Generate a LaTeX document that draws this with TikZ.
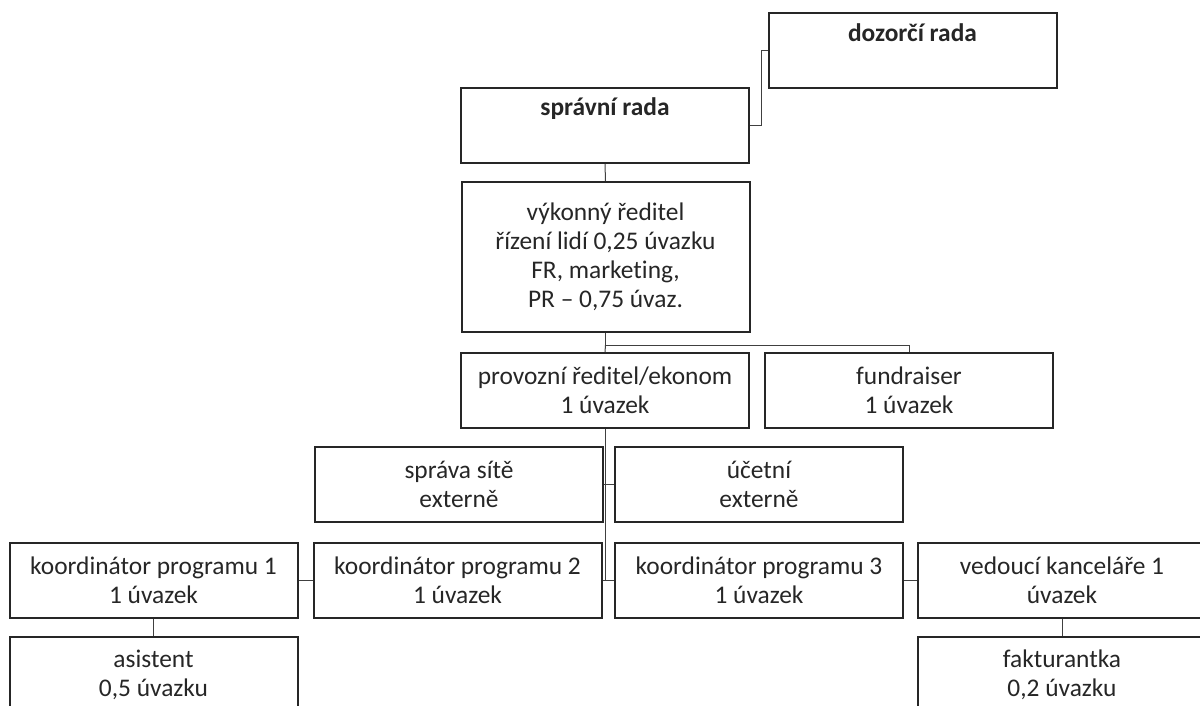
\documentclass[tikz,border=0pt]{standalone}
\usepackage{fontspec}
\setmainfont[Ligatures=NoCommon]{Carlito}
\tikzset{
  box/.style={draw=black!85, line width=1pt, rectangle, align=center,
    minimum width=144pt, minimum height=37.5pt, inner sep=0pt,
    font=\fontsize{12.7}{14.5}\selectfont, text=black!85},
  link/.style={draw=black!75, line width=0.5pt}
}
\begin{document}
\begin{tikzpicture}[x=0.5pt, y=-0.5pt]

			\useasboundingbox (0,0) rectangle (1200,706);
			\clip (0,0) rectangle (1200,706);

			% boards
			\node[box] (dozor)  at (912.5,51)  {\textbf{dozorčí rada}\\ \strut};
			\node[box] (sprav)  at (605,125.5) {\textbf{správní rada}\\ \strut};

			% management
			\node[box, minimum height=75pt] (vykon) at (605.5,257)
				{výkonný ředitel\\ řízení lidí 0,25 úvazku\\ FR, marketing,\\ PR – 0,75 úvaz.};
			\node[box] (provoz) at (605,390.5) {provozní ředitel/ekonom\\ 1 úvazek};
			\node[box] (fund)   at (909,390.5) {fundraiser\\ 1 úvazek};

			% external services
			\node[box] (sit)    at (459,484.5) {správa sítě\\ externě};
			\node[box] (ucet)   at (759,484.5) {účetní\\ externě};

			% staff
			\node[box] (k1)     at (153.5,580) {koordinátor programu 1\\ 1 úvazek};
			\node[box] (k2)     at (457.5,580) {koordinátor programu 2\\ 1 úvazek};
			\node[box] (k3)     at (759,580)   {koordinátor programu 3\\ 1 úvazek};
			\node[box] (ved)    at (1062,580)  {vedoucí kanceláře 1\\ úvazek};
			\node[box] (asist)  at (153.5,674.5) {asistent\\ 0,5 úvazku};
			\node[box] (fakt)   at (1062,674.5)  {fakturantka\\ 0,2 úvazku};

			% connectors
			\draw[link] (sprav.east) -- ++(11,0) |- (dozor.west);
			\draw[link] (sprav.south) -- (vykon.north);
			\draw[link] (vykon.south) -- ++(0,12) coordinate (split) -| (fund.north);
			\draw[link] (split) -- (provoz.north);
			\draw[link] (provoz.south) -- (provoz.south |- k2.east);
			\draw[link] (sit.east) -- (ucet.west);
			\draw[link] (k1.east) -- (k2.west);
			\draw[link] (k2.east) -- (k3.west);
			\draw[link] (k3.east) -- (ved.west);
			\draw[link] (k1.south) -- (asist.north);
			\draw[link] (ved.south) -- (fakt.north);

		\end{tikzpicture}
\end{document}
